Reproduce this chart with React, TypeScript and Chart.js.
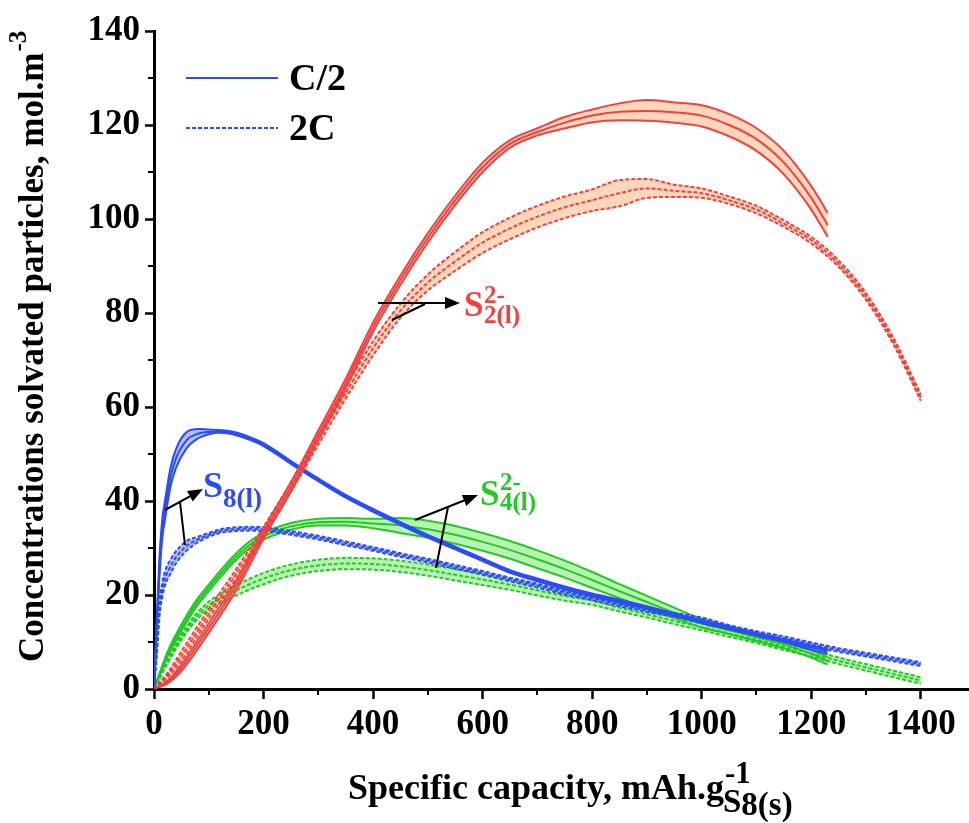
import React, { useEffect, useRef } from 'react';
import { Chart, registerables } from 'chart.js';

Chart.register(...registerables);

// ---------- data ----------
// S2^2- (l), C/2 (solid)
const rsX = [0, 25, 50, 100, 150, 200, 250, 300, 350, 400, 450, 500, 550, 600, 650, 700, 750, 800, 850, 900, 950, 1000, 1050, 1100, 1150, 1200, 1230];
const rsTop = [0, 1.8, 5.2, 14, 23, 34, 44, 55, 66, 78, 88, 97, 105, 112, 116.8, 119.3, 121.7, 123.3, 124.6, 125.3, 124.8, 124.2, 122.3, 119.3, 114.5, 107, 101.3];
const rsMid = [0, 1.5, 4.5, 13, 22, 33, 43, 54, 65, 77, 87, 96, 104, 111, 116, 118.5, 120.5, 122, 122.8, 123, 122.7, 122, 120, 117, 112, 104.5, 98.7];
const rsBot = [0, 1.2, 3.8, 12, 21, 32, 42, 53, 64, 76, 86, 95, 103, 110, 115.2, 117.8, 119.3, 120.6, 121, 120.9, 120.5, 119.7, 117.6, 114.5, 109.5, 102, 96.2];

// S2^2- (l), 2C (dashed)
const rdX = [0, 25, 50, 100, 150, 200, 250, 300, 350, 400, 450, 500, 550, 600, 650, 700, 750, 800, 850, 900, 950, 1000, 1050, 1100, 1150, 1200, 1250, 1300, 1350, 1400];
const rdTop = [0, 3.5, 8, 17, 25.5, 34.5, 44, 54, 64.2, 74, 82, 88.2, 93, 97.2, 100.3, 102.8, 104.8, 106.3, 108.3, 108.5, 107.3, 106.5, 104.8, 102.8, 99.7, 96.2, 91.2, 84.2, 74.7, 62.7];
const rdMid = [0, 3, 7, 16, 24.5, 33.5, 43, 53, 63, 72.5, 80.5, 86.5, 91, 95, 98, 100.5, 102.5, 104, 105.5, 106.5, 106, 105.5, 104, 102, 99, 95.5, 90.5, 83.5, 74, 62];
const rdBot = [0, 2.5, 6, 15, 23.5, 32.5, 42, 52, 61.8, 71, 79, 84.8, 89, 92.8, 95.7, 98.2, 100.2, 101.7, 102.7, 104.5, 104.7, 104.5, 103.2, 101.2, 98.3, 94.8, 89.8, 82.8, 73.3, 61.3];

// S8 (l), C/2 (solid)
const bsX = [0, 5, 10, 15, 20, 30, 40, 60, 80, 100, 120, 150, 175, 200, 250, 300, 350, 400, 450, 500, 550, 600, 650, 700, 750, 800, 850, 900, 950, 1000, 1050, 1100, 1150, 1200, 1230];
const bsTop = [0, 15, 28, 36, 40, 47, 51, 54.7, 55.3, 55.2, 55.1, 54.6, 53.6, 52.3, 48.5, 44.8, 41.3, 38.3, 35.5, 32.8, 30.3, 27.8, 25.3, 23.5, 21.8, 20.3, 19, 17.6, 16.1, 14.6, 13.3, 11.9, 10.6, 9.2, 8.4];
const bsMid = [0, 14, 26, 34, 38, 45, 49, 53, 54.3, 54.7, 54.8, 54.3, 53.3, 52, 48.2, 44.5, 41, 38, 35.2, 32.5, 30, 27.5, 25, 23.2, 21.5, 20, 18.7, 17.3, 15.8, 14.3, 13, 11.6, 10.3, 8.8, 8];
const bsBot = [0, 13, 24, 32, 36, 43, 47, 51.3, 53.3, 54.2, 54.5, 54, 53, 51.7, 47.9, 44.2, 40.7, 37.7, 34.9, 32.2, 29.7, 27.2, 24.7, 22.9, 21.2, 19.7, 18.4, 17, 15.5, 14, 12.7, 11.3, 10, 8.3, 7.5];

// S8 (l), 2C (dashed)
const bdX = [0, 3, 6, 10, 15, 20, 30, 40, 60, 80, 100, 125, 150, 175, 200, 250, 300, 350, 400, 450, 500, 550, 600, 650, 700, 750, 800, 850, 900, 950, 1000, 1050, 1100, 1150, 1200, 1250, 1300, 1350, 1400];
const bdTop = [0, 6, 11.5, 18.5, 22.5, 25, 27.5, 29.3, 31.5, 32.4, 33.2, 34.1, 34.4, 34.5, 34.4, 33.6, 32.6, 31.4, 30.2, 28.9, 27.7, 26.4, 25.1, 23.7, 22.4, 20.9, 19.7, 18.4, 17.2, 16.2, 15.2, 13.6, 12.3, 11.2, 9.9, 8.7, 7.7, 6.7, 5.7];
const bdMid = [0, 5, 10, 17, 21, 23.5, 26, 28, 30.5, 31.8, 32.8, 33.7, 34, 34.1, 34, 33.2, 32.2, 31, 29.8, 28.5, 27.3, 26, 24.7, 23.3, 22, 20.5, 19.3, 18, 16.8, 15.8, 14.8, 13.2, 11.9, 10.8, 9.5, 8.3, 7.3, 6.3, 5.3];
const bdBot = [0, 4, 8.5, 15.5, 19.5, 22, 24.5, 26.7, 29.5, 31.2, 32.4, 33.3, 33.6, 33.7, 33.6, 32.8, 31.8, 30.6, 29.4, 28.1, 26.9, 25.6, 24.3, 22.9, 21.6, 20.1, 18.9, 17.6, 16.4, 15.4, 14.4, 12.8, 11.5, 10.4, 9.1, 7.9, 6.9, 5.9, 4.9];

// S4^2- (l), C/2 (solid)
const gsX = [0, 25, 50, 75, 100, 125, 150, 175, 200, 250, 300, 350, 400, 450, 500, 550, 600, 650, 700, 750, 800, 850, 900, 950, 1000, 1050, 1100, 1150, 1200, 1230];
const gsTop = [0, 8, 13.7, 18.5, 22.2, 25.7, 28.9, 31.4, 33.2, 35.3, 36.2, 36.4, 36.2, 36.4, 35.8, 34.7, 33.2, 31.5, 29.5, 27.3, 24.9, 22.3, 19.8, 17.3, 14.9, 13.3, 11.8, 10.3, 8.3, 6.8];
const gsMid = [0, 7.5, 13, 17.8, 21.5, 25, 28.2, 30.7, 32.5, 34.6, 35.5, 35.6, 35.2, 34.8, 34, 32.8, 31.3, 29.6, 27.6, 25.5, 23.2, 20.8, 18.5, 16.2, 14, 12.5, 11, 9.5, 7.5, 6];
const gsBot = [0, 7, 12.3, 17.1, 20.8, 24.3, 27.5, 30, 31.8, 33.9, 34.8, 34.8, 34.2, 33.2, 32.2, 30.9, 29.4, 27.7, 25.7, 23.7, 21.5, 19.3, 17.2, 15.1, 13.1, 11.7, 10.2, 8.7, 6.7, 5.2];

// S4^2- (l), 2C (dashed)
const gdX = [0, 25, 50, 75, 100, 125, 150, 200, 250, 300, 350, 400, 450, 500, 550, 600, 650, 700, 750, 800, 850, 900, 950, 1000, 1050, 1100, 1150, 1200, 1250, 1300, 1350, 1400];
const gdTop = [0, 6.5, 11.6, 15.7, 18.6, 20.5, 22.1, 24.7, 26.5, 27.5, 27.9, 27.8, 27.3, 26.5, 25.5, 24.5, 23.3, 22.1, 20.8, 19.7, 18.1, 16.6, 15.2, 13.9, 12.5, 11.2, 9.7, 8.3, 6.7, 5.3, 3.9, 2.5];
const gdMid = [0, 6, 11, 15, 17.8, 19.5, 21, 23.5, 25.3, 26.3, 26.7, 26.6, 26.1, 25.3, 24.3, 23.3, 22.2, 21, 19.8, 18.8, 17.3, 15.9, 14.5, 13.2, 11.8, 10.5, 9, 7.6, 6, 4.6, 3.2, 1.8];
const gdBot = [0, 5.5, 10.4, 14.3, 17, 18.5, 19.9, 22.3, 24.1, 25.1, 25.5, 25.4, 24.9, 24.1, 23.1, 22.1, 21.1, 19.9, 18.8, 17.9, 16.5, 15.2, 13.8, 12.5, 11.1, 9.8, 8.3, 6.9, 5.3, 3.9, 2.5, 1.1];

// axis ticks
const xMajorStep = 200;
const xMinorTicks = [100, 300, 500, 700, 900, 1100, 1300];
const yMajorStep = 20;
const yMinorTicks = [10, 30, 50, 70, 90, 110, 130];
const legendLabels = ['C/2', '2C'];

// ---------- styles ----------
const BLUE = '#2b4cfa';
const RED = '#f43f3f';
const GREEN = '#1fcc1f';
const BLUE_FILL = '#b3c0ff';
const RED_FILL = '#fdd7bb';
const GREEN_FILL = '#b9f1b3';
const SERIF = '"Liberation Serif", "Times New Roman", serif';
const DASH = [4, 2];

const pts = (xs: number[], ys: number[]) => xs.map((x, i) => ({ x, y: ys[i] }));

function band(name: string, xs: number[], top: number[], mid: number[], bot: number[], color: string, fillColor: string, dashed: boolean) {
  const base = {
    borderColor: color,
    borderWidth: 2,
    borderDash: dashed ? DASH : [],
    pointRadius: 0,
    cubicInterpolationMode: 'monotone' as const,
  };
  return [
    { ...base, label: name + ' upper', data: pts(xs, top), fill: '+2', backgroundColor: fillColor },
    { ...base, label: name, data: pts(xs, mid), fill: false },
    { ...base, label: name + ' lower', data: pts(xs, bot), fill: false },
  ];
}

function arrow(ctx: CanvasRenderingContext2D, x1: number, y1: number, x2: number, y2: number) {
  const ang = Math.atan2(y2 - y1, x2 - x1);
  const L = 15, Wd = 6;
  const bx = x2 - L * Math.cos(ang), by = y2 - L * Math.sin(ang);
  ctx.beginPath();
  ctx.moveTo(x1, y1);
  ctx.lineTo(bx, by);
  ctx.stroke();
  ctx.beginPath();
  ctx.moveTo(x2, y2);
  ctx.lineTo(bx + Wd * Math.sin(ang), by - Wd * Math.cos(ang));
  ctx.lineTo(bx - Wd * Math.sin(ang), by + Wd * Math.cos(ang));
  ctx.closePath();
  ctx.fill();
}

function line(ctx: CanvasRenderingContext2D, x1: number, y1: number, x2: number, y2: number) {
  ctx.beginPath();
  ctx.moveTo(x1, y1);
  ctx.lineTo(x2, y2);
  ctx.stroke();
}

const decorPlugin = {
  id: 'decor',
  afterDraw(chart: any) {
    const ctx: CanvasRenderingContext2D = chart.ctx;
    const xs = chart.scales.x;
    const ys = chart.scales.y;
    const area = chart.chartArea;
    ctx.save();
    // minor ticks
    ctx.strokeStyle = '#000';
    ctx.lineWidth = 2;
    xMinorTicks.forEach((v) => {
      const px = Math.round(xs.getPixelForValue(v));
      line(ctx, px, area.bottom, px, area.bottom + 6);
    });
    yMinorTicks.forEach((v) => {
      const py = Math.round(ys.getPixelForValue(v));
      line(ctx, area.left - 6, py, area.left, py);
    });

    // x title
    ctx.fillStyle = '#000';
    ctx.textBaseline = 'alphabetic';
    ctx.textAlign = 'left';
    ctx.font = `bold 36px ${SERIF}`;
    const xt = 'Specific capacity, mAh.g';
    const x0 = 348;
    ctx.fillText(xt, x0, 799);
    const xw = ctx.measureText(xt).width;
    ctx.font = `bold 31px ${SERIF}`;
    ctx.fillText('-1', x0 + xw + 1, 783);
    ctx.font = `bold 33px ${SERIF}`;
    ctx.fillText('S', x0 + xw - 1, 812);
    const sw = ctx.measureText('S').width;
    ctx.fillText('8(s)', x0 + xw - 1 + sw, 815);

    // y title
    ctx.save();
    ctx.translate(43, 662);
    ctx.rotate(-Math.PI / 2);
    ctx.font = `bold 35px ${SERIF}`;
    const yt = 'Concentrations solvated particles, mol.m';
    ctx.fillText(yt, 0, 0);
    const yw = ctx.measureText(yt).width;
    ctx.font = `bold 25px ${SERIF}`;
    ctx.fillText('-3', yw + 1, -17);
    ctx.restore();

    // legend
    ctx.strokeStyle = BLUE;
    ctx.lineWidth = 2;
    line(ctx, 186, 78, 278, 78);
    ctx.setLineDash(DASH);
    line(ctx, 186, 128, 278, 128);
    ctx.setLineDash([]);
    ctx.fillStyle = '#000';
    ctx.font = `bold 38px ${SERIF}`;
    ctx.textBaseline = 'middle';
    ctx.fillText(legendLabels[0], 289, 80);
    ctx.fillText(legendLabels[1], 289, 130);
    ctx.textBaseline = 'alphabetic';

    // arrows
    ctx.strokeStyle = '#000';
    ctx.fillStyle = '#000';
    ctx.lineWidth = 2;
    arrow(ctx, 165, 510, 203, 489);
    line(ctx, 180, 502, 185, 545);
    arrow(ctx, 378, 303, 460, 303);
    line(ctx, 425, 304, 392, 320);
    arrow(ctx, 415, 520, 478, 495);
    line(ctx, 448, 507, 436, 568);

    // species labels
    // S8(l)
    ctx.fillStyle = BLUE;
    ctx.font = `bold 36px ${SERIF}`;
    ctx.fillText('S', 203, 497);
    ctx.font = `bold 27px ${SERIF}`;
    ctx.fillText('8(l)', 223, 507);
    // S2^2-(l)
    ctx.fillStyle = RED;
    ctx.font = `bold 35px ${SERIF}`;
    ctx.fillText('S', 464, 316);
    ctx.font = `bold 25px ${SERIF}`;
    ctx.fillText('2-', 484, 303);
    ctx.fillText('2(l)', 484, 323);
    // S4^2-(l)
    ctx.fillStyle = GREEN;
    ctx.font = `bold 35px ${SERIF}`;
    ctx.fillText('S', 480, 505);
    ctx.font = `bold 25px ${SERIF}`;
    ctx.fillText('2-', 500, 490);
    ctx.fillText('4(l)', 500, 510);

    ctx.restore();
  },
};

export default function App() {
  const ref = useRef<HTMLCanvasElement>(null);
  useEffect(() => {
    const datasets = [
      ...band('S2 C/2', rsX, rsTop, rsMid, rsBot, RED, RED_FILL, false),
      ...band('S2 2C', rdX, rdTop, rdMid, rdBot, RED, RED_FILL, true),
      ...band('S8 C/2', bsX, bsTop, bsMid, bsBot, BLUE, BLUE_FILL, false),
      ...band('S8 2C', bdX, bdTop, bdMid, bdBot, BLUE, BLUE_FILL, true),
      ...band('S4 C/2', gsX, gsTop, gsMid, gsBot, GREEN, GREEN_FILL, false),
      ...band('S4 2C', gdX, gdTop, gdMid, gdBot, GREEN, GREEN_FILL, true),
    ];
    const tickFont = { family: SERIF, size: 35, weight: 'bold' as const };
    const chart = new Chart(ref.current as HTMLCanvasElement, {
      type: 'line',
      data: { datasets: datasets as any },
      options: {
        responsive: false,
        animation: false,
        layout: { padding: { top: 31, left: 0, right: 0, bottom: 0 } },
        plugins: {
          legend: { display: false },
          tooltip: { enabled: false },
          filler: { drawTime: 'beforeDatasetsDraw' },
        } as any,
        scales: {
          x: {
            type: 'linear',
            min: 0,
            max: 1488,
            afterFit: (s: any) => { s.height = 134; },
            border: { display: true, width: 3, color: '#000' },
            grid: { display: true, drawOnChartArea: false, drawTicks: true, tickLength: 10, tickWidth: 2.5, tickColor: '#000', color: '#000' },
            ticks: { stepSize: xMajorStep, includeBounds: false, autoSkip: false, maxRotation: 0, color: '#000', font: tickFont, padding: 5, callback: (v: any) => String(v) },
          },
          y: {
            type: 'linear',
            min: 0,
            max: 140,
            afterFit: (s: any) => { s.width = 154; },
            border: { display: true, width: 3, color: '#000' },
            grid: { display: true, drawOnChartArea: false, drawTicks: true, tickLength: 9, tickWidth: 2.5, tickColor: '#000', color: '#000' },
            ticks: { stepSize: yMajorStep, color: '#000', font: tickFont, padding: 5, callback: (v: any) => String(v) },
          },
        },
      },
      plugins: [decorPlugin],
    });
    return () => chart.destroy();
  }, []);
  return (
    <div style={{ position: 'absolute', left: 0, top: 0, width: 969, height: 823, background: '#fff' }}>
      <canvas ref={ref} width={969} height={823} style={{ display: 'block', width: 969, height: 823 }} />
    </div>
  );
}
